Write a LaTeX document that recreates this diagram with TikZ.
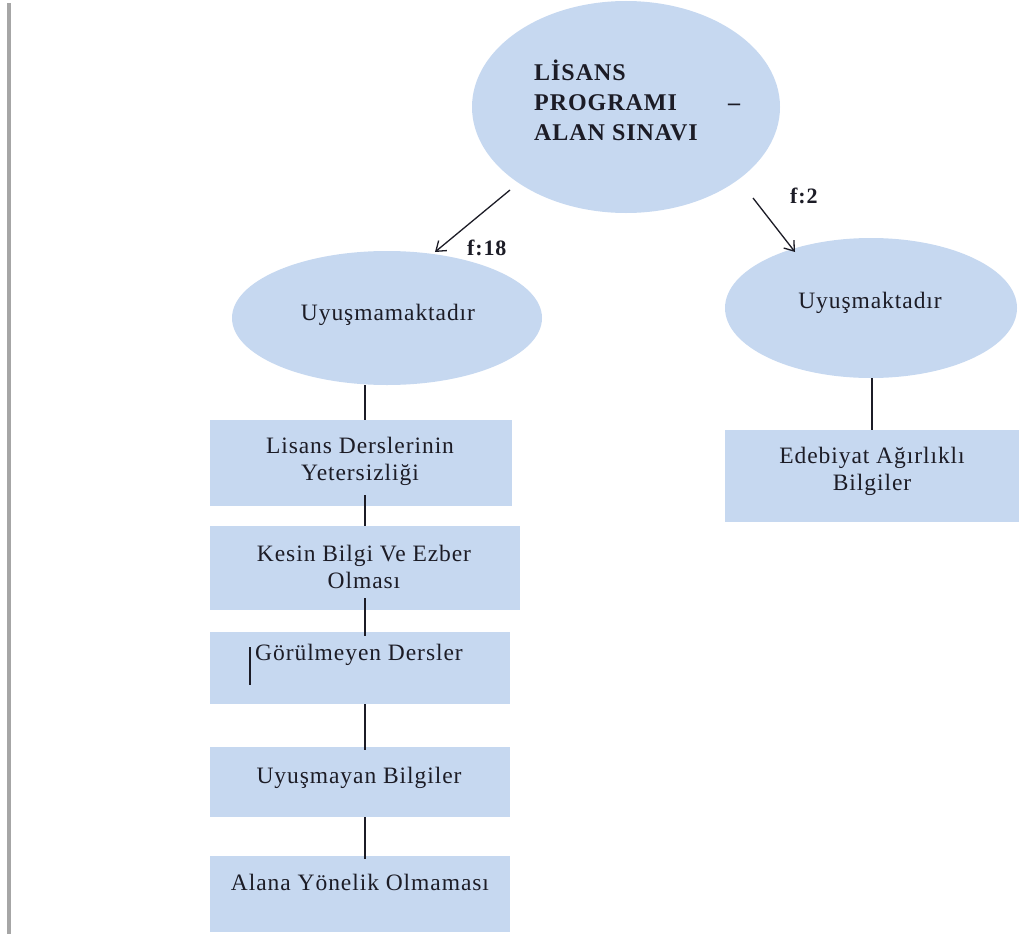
\documentclass[tikz,border=0pt]{standalone}
\usepackage{fontspec}
\setmainfont{Liberation Serif}[LetterSpace=4]
\usetikzlibrary{shapes.geometric,arrows.meta,calc}
\definecolor{fillblue}{RGB}{198,216,240}
\definecolor{ink}{RGB}{28,28,38}
\begin{document}
\begin{tikzpicture}[x=1pt,y=-1pt,
  bub/.style={ellipse,fill=fillblue,draw=none,inner sep=0pt},
  box/.style={rectangle,fill=fillblue,draw=none,inner sep=0pt,anchor=north west},
  txt/.style={text=ink,font=\fontsize{23.5}{27}\selectfont,align=center,anchor=base,inner sep=0pt},
  btxt/.style={text=ink,font=\fontsize{22}{26}\selectfont\bfseries,anchor=base west,inner sep=0pt},
  conn/.style={draw=ink,line width=1.3pt},
  arr/.style={conn,-{Straight Barb[length=9pt,width=13pt]}}]
\useasboundingbox (0,0) rectangle (1019,934);
\fill[gray!70] (7,3) rectangle (11,934);
% ellipses
\node[bub,minimum width=308pt,minimum height=212pt] (top) at (626,107) {};
\node[bub,minimum width=310pt,minimum height=134pt] (lell) at (387,318) {};
\node[bub,minimum width=292pt,minimum height=140pt] (rell) at (871,308) {};
% boxes
\node[box,minimum width=302pt,minimum height=86pt] (b1) at (210,420) {};
\node[box,minimum width=310pt,minimum height=84pt] (b2) at (210,526) {};
\node[box,minimum width=300pt,minimum height=72pt] (b3) at (210,632) {};
\node[box,minimum width=300pt,minimum height=70pt] (b4) at (210,747) {};
\node[box,minimum width=300pt,minimum height=76pt] (b5) at (210,856) {};
\node[box,minimum width=294pt,minimum height=92pt] (rb) at (725,430) {};
% texts (base anchor = baseline of last line)
\node[text=ink,font=\fontsize{24}{30}\selectfont\bfseries,align=left,anchor=base west,inner sep=0pt] (toptxt) at (534,140) {LİSANS\\\makebox[206pt][l]{PROGRAMI\hfill–}\\ALAN SINAVI};
\node[txt] (lelltxt) at (388,320) {Uyuşmamaktadır};
\node[txt] (relltxt) at (870,308) {Uyuşmaktadır};
\node[txt] (t1) at (360,480) {Lisans Derslerinin\\Yetersizliği};
\node[txt] (t2) at (364,588) {Kesin Bilgi Ve Ezber\\Olması};
\node[txt] (t3) at (359,660) {Görülmeyen Dersler};
\node[txt] (t4) at (359,783) {Uyuşmayan Bilgiler};
\node[txt] (t5) at (360,890) {Alana Yönelik Olmaması};
\node[txt] (rt) at (872,490) {Edebiyat Ağırlıklı\\Bilgiler};
\node[btxt] (f18) at (467,255) {f:18};
\node[btxt] (f2) at (790,203) {f:2};
% cursor mark
\draw[ink,line width=2.4pt] (250,647) -- (250,685);
% arrows
\coordinate (a1s) at (510,190);
\coordinate (a1e) at (435,252);
\coordinate (a2s) at (753,198);
\coordinate (a2e) at (795,252);
\draw[arr] (a1s) -- (a1e);
\draw[arr] (a2s) -- (a2e);
% vertical connectors
\coordinate (lx) at (365,0);
\coordinate (rx) at (872,0);
\draw[conn] (lx |- lell.south) -- (lx |- b1.north);
\draw[conn] ($(lx |- b1.south)+(0,-11)$) -- (lx |- b2.north);
\draw[conn] ($(lx |- b2.south)+(0,-12)$) -- ($(lx |- b3.north)+(0,4)$);
\draw[conn] (lx |- b3.south) -- ($(lx |- b4.north)+(0,3)$);
\draw[conn] (lx |- b4.south) -- ($(lx |- b5.north)+(0,3)$);
\draw[conn] (rx |- rell.south) -- (rx |- rb.north);
\end{tikzpicture}
\end{document}
